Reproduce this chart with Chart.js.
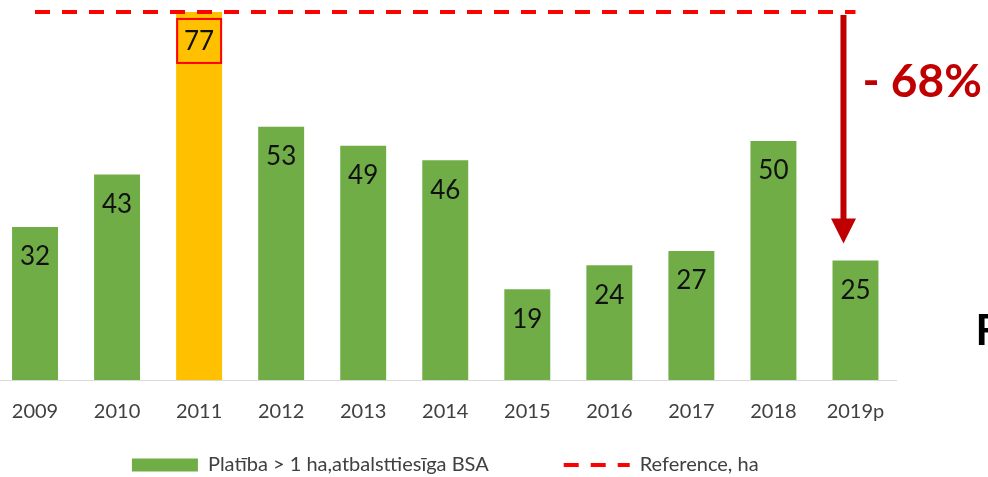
<!DOCTYPE html>
<html>
<head>
<meta charset="utf-8">
<script src="https://cdn.jsdelivr.net/npm/chart.js@4"></script>
<style>
  html, body { margin: 0; padding: 0; background: #fff; overflow: hidden; }
  #wrap { position: absolute; left: -40px; top: 0; width: 1028px; height: 477px; }
</style>
</head>
<body>
<div id="wrap"><canvas id="chart"></canvas></div>
<script>
// dati
const years = ['2009', '2010', '2011', '2012', '2013', '2014', '2015', '2016', '2017', '2018', '2019p'];
const areaHa = [32, 43, 77, 53, 49, 46, 19, 24, 27, 50, 25];
const referenceHa = [77, 77, 77, 77, 77, 77, 77, 77, 77, 77, 77];
const highlightYear = '2011';
const changeText = '- 68%';
const sideText = 'F';
const seriesNames = ['Platība > 1 ha,atbalsttiesīga BSA', 'Reference, ha'];

const GREEN = '#70AD47';
const ORANGE = '#FFC000';
const RED = '#FF0000';
const DARK_RED = '#C00000';
const FONT = 'Lato, "Open Sans", sans-serif';

const AXIS_Y = 380;        // x ass (stabiņu pamats)
const LEGEND_GAP = 75;     // atstarpe starp leģendas elementiem
const LEGEND_Y = 465;      // leģendas rindas vidus
const barColors = years.map(y => y === highlightYear ? ORANGE : GREEN);

// vērtību uzraksti stabiņos
const valueLabels = {
  id: 'valueLabels',
  afterDatasetsDraw(chart) {
    const ctx = chart.ctx;
    const meta = chart.getDatasetMeta(0);
    ctx.save();
    meta.data.forEach((bar, i) => {
      if (years[i] === highlightYear) {
        const w = bar.width;
        ctx.strokeStyle = RED;
        ctx.lineWidth = 2;
        ctx.strokeRect(bar.x - w / 2 + 1, bar.y + 7, w - 2, 44);
      }
      ctx.fillStyle = '#111';
      ctx.font = '26px ' + FONT;
      ctx.textAlign = 'center';
      ctx.textBaseline = 'middle';
      ctx.fillText(String(areaHa[i]), bar.x, bar.y + 30);
    });
    ctx.restore();
  }
};

// leģendu pabīda, lai atstarpe starp elementiem nav atkarīga no augstuma,
// un x ass uzrakstus neapgriež
const legendShift = {
  id: 'legendShift',
  beforeDraw(chart) {
    const lg = chart.legend;
    lg.top = LEGEND_Y - 10 - LEGEND_GAP;
    lg.bottom = chart.height;
    lg.height = lg.bottom - lg.top;
    const xs = chart.scales.x;
    xs.bottom = AXIS_Y + 50;
    xs.height = xs.bottom - xs.top;
  }
};

// bulta un -68%
const changeArrow = {
  id: 'changeArrow',
  afterDraw(chart) {
    const ctx = chart.ctx;
    const xs = chart.scales.x, ys = chart.scales.y;
    const last = years.length - 1;
    const cx = xs.getPixelForValue(last);
    const ax = cx - 12;
    const yTop = ys.getPixelForValue(referenceHa[last]) + 3;
    const yTip = ys.getPixelForValue(areaHa[last]) - 17;
    ctx.save();
    ctx.fillStyle = DARK_RED;
    ctx.fillRect(ax - 3, yTop, 6, yTip - yTop - 24);
    ctx.beginPath();
    ctx.moveTo(ax - 12.5, yTip - 25);
    ctx.lineTo(ax + 12.5, yTip - 25);
    ctx.lineTo(ax, yTip);
    ctx.closePath();
    ctx.fill();

    ctx.font = 'bold 46px ' + FONT;
    ctx.textAlign = 'left';
    ctx.textBaseline = 'alphabetic';
    ctx.fillText(changeText, cx + 7, 97);

    ctx.fillStyle = '#000';
    ctx.font = 'bold 42px ' + FONT;
    ctx.fillText(sideText, cx + 120, 345);
    ctx.restore();
  }
};

const ctx = document.getElementById('chart').getContext('2d');
new Chart(ctx, {
  type: 'bar',
  data: {
    labels: years,
    datasets: [
      {
        label: seriesNames[0],
        data: areaHa,
        backgroundColor: barColors,
        borderWidth: 0,
        categoryPercentage: 1,
        barPercentage: 0.56,
        order: 1
      },
      {
        type: 'line',
        label: seriesNames[1],
        data: referenceHa,
        borderColor: RED,
        backgroundColor: RED,
        borderWidth: 4,
        borderDash: [15, 12],
        pointRadius: 0,
        fill: false,
        order: 0
      }
    ]
  },
  options: {
    responsive: true,
    maintainAspectRatio: false,
    animation: false,
    layout: { padding: { left: 34, right: 91.5, top: 0, bottom: 0 } },
    scales: {
      x: {
        grid: { display: false, drawTicks: false },
        border: { display: true, color: '#D9D9D9', width: 1 },
        ticks: { color: '#404040', font: { family: FONT, size: 20 }, padding: 20, maxRotation: 0 },
        // x ass augstums tā, lai stabiņu pamats būtu AXIS_Y
        afterFit(s) { s.height = Math.max(1, 477 - AXIS_Y - s.chart.legend.height); }
      },
      y: {
        display: false,
        min: 0,
        max: 79.5
      }
    },
    plugins: {
      tooltip: { enabled: false },
      legend: {
        position: 'bottom',
        maxHeight: 40,
        labels: {
          usePointStyle: true,
          pointStyleWidth: 66,
          boxHeight: 13,
          padding: LEGEND_GAP,
          color: '#404040',
          font: { family: FONT, size: 20 },
          generateLabels(chart) {
            const items = Chart.defaults.plugins.legend.labels.generateLabels(chart);
            items.sort((a, b) => a.datasetIndex - b.datasetIndex);
            items[0].pointStyle = 'rect';
            items[0].fillStyle = GREEN;
            items[0].lineWidth = 0;
            items[1].pointStyle = 'line';
            items[1].strokeStyle = RED;
            items[1].lineWidth = 4;
            items[1].lineDash = [15, 12];
            return items;
          }
        }
      }
    }
  },
  plugins: [valueLabels, legendShift, changeArrow]
});
</script>
</body>
</html>
